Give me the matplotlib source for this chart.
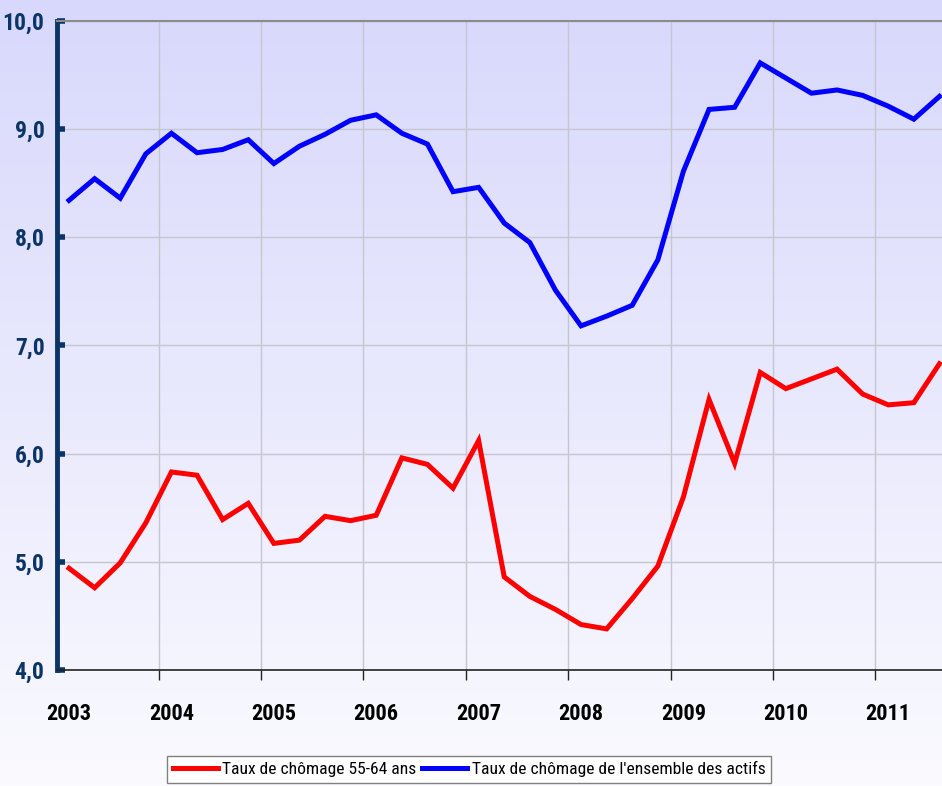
import numpy as np
import matplotlib.pyplot as plt
from matplotlib.ticker import FixedLocator, FuncFormatter

# ---------------- data (quarterly, 2003 Q1 -> 2011 Q3) ---------------- #
years = [str(y) for y in range(2003, 2012)]
seniors_55_64 = [4.94, 4.76, 4.99, 5.36, 5.83, 5.80, 5.39, 5.54,
                 5.17, 5.20, 5.42, 5.38, 5.43, 5.96, 5.90, 5.68,
                 6.12, 4.86, 4.68, 4.56, 4.42, 4.38, 4.66, 4.96,
                 5.60, 6.50, 5.91, 6.75, 6.60, 6.69, 6.78, 6.55,
                 6.45, 6.47, 6.83]
all_workers = [8.34, 8.54, 8.36, 8.77, 8.96, 8.78, 8.81, 8.90,
               8.68, 8.84, 8.95, 9.08, 9.13, 8.96, 8.86, 8.42,
               8.46, 8.13, 7.95, 7.51, 7.18, 7.27, 7.37, 7.79,
               8.61, 9.18, 9.20, 9.61, 9.47, 9.33, 9.36, 9.31,
               9.21, 9.09, 9.30]
label_red = "Taux de chômage 55-64 ans"
label_blue = "Taux de chômage de l'ensemble des actifs"

FONT = ['Roboto Condensed', 'Liberation Sans Narrow', 'Liberation Sans', 'DejaVu Sans']
NAVY = '#0b3566'

fig = plt.figure(figsize=(9.42, 7.86), dpi=100)

# background gradient over the whole figure
bg = fig.add_axes([0, 0, 1, 1], zorder=-1)
top = np.array([216, 216, 252]) / 255
bot = np.array([250, 250, 255]) / 255
t = np.linspace(0, 1, 256)[:, None]
grad = (top * (1 - t) + bot * t)[:, None, :]
bg.imshow(grad, aspect='auto', extent=[0, 1, 0, 1])
bg.axis('off')

ax = fig.add_axes([57 / 942, 1 - 670 / 786, 1 - 57 / 942, (670 - 20.7) / 786])
ax.patch.set_alpha(0)

x = np.arange(len(seniors_55_64))
ax.plot(x, seniors_55_64, color='#ff0000', lw=3.6, label=label_red,
        solid_joinstyle='miter', zorder=3)
ax.plot(x, all_workers, color='#0000ff', lw=3.6, label=label_blue,
        solid_joinstyle='miter', zorder=3)

ax.set_xlim(-0.47, 34.1)
ax.set_ylim(4, 10)

# x: ticks at year boundaries, labels under the first quarter
bounds = np.arange(len(years)) * 4 - 0.5
ax.xaxis.set_major_locator(FixedLocator(bounds))
ax.xaxis.set_minor_locator(FixedLocator(np.arange(len(years)) * 4))
ax.xaxis.set_major_formatter(FuncFormatter(lambda v, p: ''))
ax.xaxis.set_minor_formatter(FuncFormatter(lambda v, p: years[int(round(v / 4))]))
ax.tick_params(axis='x', which='major', direction='out', length=7, width=1, color='#222222')
ax.tick_params(axis='x', which='minor', length=0, pad=24)
for lbl in ax.get_xticklabels(minor=True):
    lbl.set_family(FONT)
    lbl.set_fontsize(16)
    lbl.set_fontweight('bold')

# y axis
ax.set_yticks(np.arange(4, 11, 1))
ax.yaxis.set_major_formatter(FuncFormatter(lambda v, p: f"{v:.1f}".replace('.', ',')))
ax.tick_params(axis='y', direction='in', length=6, width=4, color=NAVY, pad=9,
               labelcolor=NAVY)
for lbl in ax.get_yticklabels():
    lbl.set_family(FONT)
    lbl.set_fontsize(17)
    lbl.set_fontweight('bold')

ax.grid(True, which='major', color='#c6c6d0', lw=1, zorder=0)

ax.spines['left'].set_color(NAVY)
ax.spines['left'].set_linewidth(3.5)
ax.spines['bottom'].set_color('#222222')
ax.spines['bottom'].set_linewidth(1.2)
ax.spines['top'].set_color('#8c8c8c')
ax.spines['top'].set_linewidth(1.5)
ax.spines['right'].set_visible(False)

leg = fig.legend(loc='upper center', bbox_to_anchor=(469 / 942, 1 - 756 / 786),
                 ncol=2, frameon=True, fancybox=False, handlelength=2.6,
                 handletextpad=0.25, columnspacing=0.3, borderpad=0.3,
                 borderaxespad=0, prop={'family': FONT, 'size': 12.6})
leg.get_frame().set_edgecolor('#808080')
leg.get_frame().set_facecolor('white')
leg.get_frame().set_alpha(1)
leg.get_frame().set_linewidth(1)

fig.savefig('out.png', dpi=100)
